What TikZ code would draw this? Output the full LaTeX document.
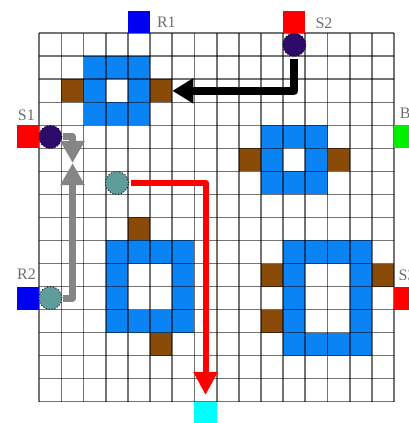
\documentclass[tikz,border=0pt]{standalone}
\usepackage{fontspec}
\setmainfont{Liberation Serif}
\usetikzlibrary{arrows.meta}
\definecolor{ringblue}{HTML}{0A84F5}
\definecolor{wallbrown}{HTML}{8A4A08}
\definecolor{botpurple}{HTML}{2E0A6B}
\definecolor{botteal}{HTML}{5F9C9C}
\definecolor{labelgray}{HTML}{6E6E6E}
\definecolor{pathgray}{HTML}{858585}
\definecolor{stationred}{HTML}{FF0000}
\definecolor{stationblue}{HTML}{0000F0}
\definecolor{stationgreen}{HTML}{00F000}
\definecolor{stationcyan}{HTML}{00FFFF}
\tikzset{
  gridline/.style={draw=black, opacity=0.55, line width=1.7pt},
  lbl/.style={text=labelgray, inner sep=0pt, font=\fontsize{16}{18}\selectfont},
  bot/.style={circle, minimum size=23pt, inner sep=0pt, draw=black, dotted, line width=0.9pt},
  route/.style={line join=round},
  blackroute/.style={route, draw=black, line width=8pt, -{Triangle[length=21pt,width=24pt]}},
  redroute/.style={route, draw=red, line width=6pt, -{Triangle[length=23pt,width=23pt]}},
  grayroute/.style={route, draw=pathgray, line width=7pt, -{Triangle[length=22pt,width=23pt]}}
}
\begin{document}
\begin{tikzpicture}[x=1pt,y=1pt]
\useasboundingbox (0,0) rectangle (408,-423);
\fill[white] (0,0) rectangle (408,-423);
\begin{scope}[shift={(39.3pt,-33.3pt)}, x=22.17pt, y=-23.02pt]
  % obstacle rings
  \fill[ringblue] (2,1) rectangle (5,4);   \fill[white] (3,2) rectangle (4,3);
  \fill[ringblue] (10,4) rectangle (13,7); \fill[white] (11,5) rectangle (12,6);
  \fill[ringblue] (3,9) rectangle (7,13);  \fill[white] (4,10) rectangle (6,12);
  \fill[ringblue] (11,9) rectangle (15,14);\fill[white] (12,10) rectangle (14,13);
  % brown cells
  \foreach \c/\r in {1/2,5/2,9/5,13/5,4/8,5/13,10/10,10/12,15/10}
    \fill[wallbrown] (\c,\r) rectangle ++(1,1);
  % grid
  \foreach \i in {0,...,16} {
    \draw[gridline] (\i,0) -- (\i,16);
    \draw[gridline] (0,\i) -- (16,\i);
  }
  % stations outside the grid
  \fill[stationblue]  (4,-0.97) rectangle (5,0);
  \fill[stationred]   (11,-0.97) rectangle (12,0);
  \fill[stationred]   (-1.02,4) rectangle (0,5);
  \fill[stationblue]  (-1.02,11) rectangle (0,12);
  \fill[stationgreen] (16,4) rectangle (17,5);
  \fill[stationred]   (16,11) rectangle (17,12);
  \fill[stationcyan]  (7,16.02) rectangle (8,17.2);
  % labels
  \node[lbl, anchor=west] (lR1) at (5.3,-0.5) {R1};
  \node[lbl, anchor=west] (lS2) at (12.45,-0.45) {S2};
  \node[lbl] (lS1) at (-0.58,3.55) {S1};
  \node[lbl] (lR2) at (-0.58,10.45) {R2};
  \node[lbl, anchor=west] (lB) at (16.25,3.48) {B};
  \node[lbl, anchor=west] (lS3) at (16.2,10.5) {S3};
  % robots
  \node[bot, fill=botpurple] (S2c) at (11.5,0.5) {};
  \node[bot, fill=botpurple] (S1c) at (0.5,4.5) {};
  \node[bot, fill=botteal]   (R1c) at (3.5,6.5) {};
  \node[bot, fill=botteal]   (R2c) at (0.5,11.5) {};
  % route points
  \coordinate (kb) at (11.5,2.5);
  \coordinate (tb) at (6,2.5);
  \coordinate (kr) at (7.5,6.5);
  \coordinate (tr) at (7.5,15.71);
  \coordinate (kg1) at (1.5,4.5);
  \coordinate (tg1) at (1.5,5.63);
  \coordinate (kg2) at (1.5,11.5);
  \coordinate (tg2) at (1.5,5.64);
  % routes
  \draw[blackroute, shorten <=2pt] (S2c) -- (kb) -- (tb);
  \draw[redroute, shorten <=2pt] (R1c) -- (kr) -- (tr);
  \draw[grayroute, shorten <=1pt] (S1c) -- (kg1) -- (tg1);
  \draw[grayroute, shorten <=1pt] (R2c) -- (kg2) -- (tg2);
\end{scope}
\end{tikzpicture}
\end{document}
